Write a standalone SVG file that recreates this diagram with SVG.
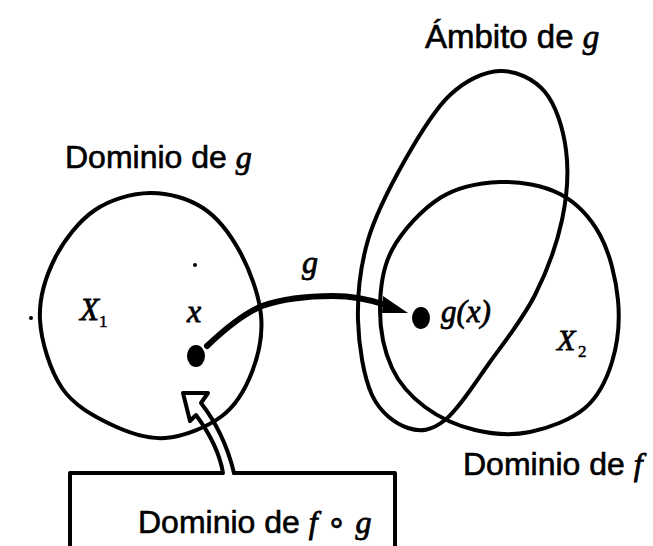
<svg xmlns="http://www.w3.org/2000/svg" width="653" height="546" viewBox="0 0 653 546">
<style>
.shape{fill:none;stroke:#000;stroke-width:4;stroke-linejoin:round;stroke-linecap:round}
.lbl{font-family:"Liberation Sans","DejaVu Sans",sans-serif;font-size:32px;fill:#000;stroke:#000;stroke-width:0.6}
.m{font-family:"Liberation Serif","DejaVu Serif",serif;font-style:italic;fill:#000;stroke:#000;stroke-width:0.8}
.sub{font-family:"Liberation Serif","DejaVu Serif",serif;font-size:17px;fill:#000;stroke:#000;stroke-width:0.5}
</style>
<rect width="653" height="546" fill="#fff"/>
<g id="dominio-g">
<path class="shape" d="M150,193 C168,192.7 188,198.2 203,208 C218,217.8 230.3,234.2 240,252 C249.7,269.8 259,295 261,315 C263,335 258.5,355.2 252,372 C245.5,388.8 236.5,405 222,416 C207.5,427 183.7,436.7 165,438 C146.3,439.3 127.2,432.3 110,424 C92.8,415.7 73.7,405.3 62,388 C50.3,370.7 41.2,341.7 40,320 C38.8,298.3 45.8,276.3 55,258 C64.2,239.7 79.2,220.8 95,210 C110.8,199.2 132,193.3 150,193 Z"/>
<text class="lbl" x="65" y="168">Dominio de <tspan class="m">g</tspan></text>
<text class="m" x="80" y="320" font-size="31">X</text>
<text class="sub" x="99" y="327">1</text>
<text class="m" x="187" y="322" font-size="32">x</text>
<ellipse cx="196" cy="356" rx="9" ry="11" fill="#000"/>
<circle cx="195" cy="265" r="2" fill="#000"/>
<circle cx="31" cy="318" r="2" fill="#000"/>
</g>
<g id="ambito-g">
<path class="shape" d="M500,71 C515.8,70.5 534,78.8 545,92 C556,105.2 563.2,128.7 566,150 C568.8,171.3 567.2,195.8 562,220 C556.8,244.2 547,271.3 535,295 C523,318.7 505,341.2 490,362 C475,382.8 458.7,409 445,420 C431.3,431 420.2,432.2 408,428 C395.8,423.8 380.3,413 372,395 C363.7,377 358.7,345.8 358,320 C357.3,294.2 360.2,266.7 368,240 C375.8,213.3 391.3,184.2 405,160 C418.7,135.8 434.2,109.8 450,95 C465.8,80.2 484.2,71.5 500,71 Z"/>
<text class="lbl" x="425" y="48" style="font-size:33px">Ámbito de <tspan class="m">g</tspan></text>
</g>
<g id="dominio-f">
<path class="shape" d="M500,182 C520,181.3 543.3,185.2 560,194 C576.7,202.8 590.3,217.3 600,235 C609.7,252.7 616,278.8 618,300 C620,321.2 617.5,344 612,362 C606.5,380 598.7,396.3 585,408 C571.3,419.7 548.3,428.3 530,432 C511.7,435.7 492.5,434.2 475,430 C457.5,425.8 438.8,417.3 425,407 C411.2,396.7 399.5,384.2 392,368 C384.5,351.8 380,329.7 380,310 C380,290.3 382,268.7 392,250 C402,231.3 422,209.3 440,198 C458,186.7 480,182.7 500,182 Z"/>
<text class="lbl" x="463" y="475">Dominio de <tspan class="m">f</tspan></text>
<ellipse cx="421" cy="318" rx="9" ry="11" fill="#000"/>
<text class="m" x="441" y="322" font-size="31">g(x)</text>
<text class="m" x="557" y="350" font-size="30">X</text>
<text class="sub" x="578" y="357">2</text>
</g>
<g id="dominio-fg">
<path class="shape" d="M70,546 L70,473 L222,473 M234,473 L395,473 L395,546" stroke-width="3.5"/>
<text class="lbl" x="138" y="533">Dominio de <tspan class="m">f</tspan> ∘ <tspan class="m">g</tspan></text>
</g>
<g id="connectors">
<path d="M207,346 C228,326 245,313 262,306 C285,298 310,296 333,296 C352,296 368,299 386,305" fill="none" stroke="#000" stroke-width="6" stroke-linecap="round"/>
<polygon points="383,296 408,313 382,313" fill="#000"/>
<text class="m" x="302" y="273" font-size="32">g</text>
<path class="shape" stroke-width="3" d="M223,473 C220,455 213,438 196,415 L190,421 L183,393 L208,393 L201,403 C218,425 228,448 234,473"/>
</g>
</svg>
